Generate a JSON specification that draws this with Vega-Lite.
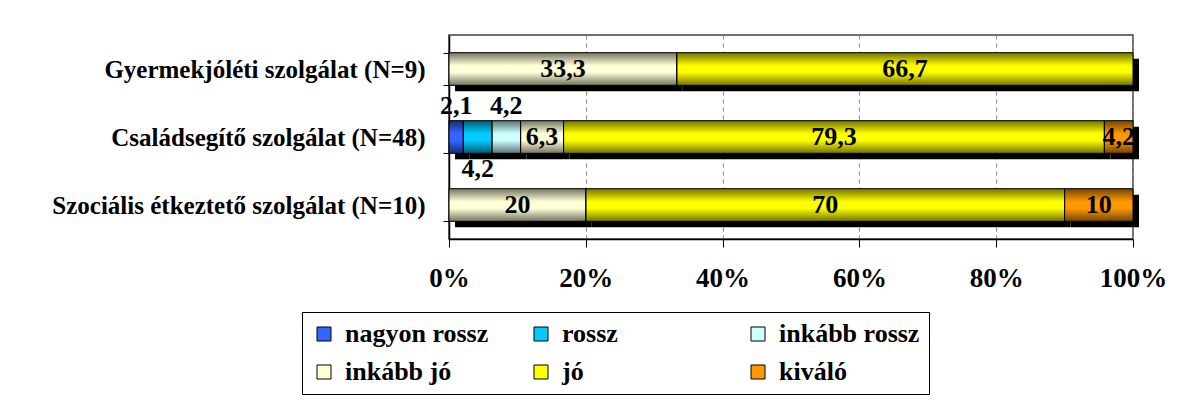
{
  "$schema": "https://vega.github.io/schema/vega-lite/v6.json",
  "width": 684,
  "height": 204,
  "autosize": {"type": "none"},
  "padding": {"left": 449, "top": 35, "right": 70, "bottom": 169},
  "background": "white",
  "data": {
    "values": [
      {"service": "Gyermekjóléti szolgálat (N=9)", "category": "inkább jó", "value": 33.3, "rank": 4},
      {"service": "Gyermekjóléti szolgálat (N=9)", "category": "jó", "value": 66.7, "rank": 5},
      {"service": "Családsegítő szolgálat (N=48)", "category": "nagyon rossz", "value": 2.1, "rank": 1},
      {"service": "Családsegítő szolgálat (N=48)", "category": "rossz", "value": 4.2, "rank": 2},
      {"service": "Családsegítő szolgálat (N=48)", "category": "inkább rossz", "value": 4.2, "rank": 3},
      {"service": "Családsegítő szolgálat (N=48)", "category": "inkább jó", "value": 6.3, "rank": 4},
      {"service": "Családsegítő szolgálat (N=48)", "category": "jó", "value": 79.3, "rank": 5},
      {"service": "Családsegítő szolgálat (N=48)", "category": "kiváló", "value": 4.2, "rank": 6},
      {"service": "Szociális étkeztető szolgálat (N=10)", "category": "inkább jó", "value": 20, "rank": 4},
      {"service": "Szociális étkeztető szolgálat (N=10)", "category": "jó", "value": 70, "rank": 5},
      {"service": "Szociális étkeztető szolgálat (N=10)", "category": "kiváló", "value": 10, "rank": 6}
    ]
  },
  "encoding": {
    "y": {
      "field": "service",
      "type": "nominal",
      "sort": ["Gyermekjóléti szolgálat (N=9)", "Családsegítő szolgálat (N=48)", "Szociális étkeztető szolgálat (N=10)"],
      "title": null,
      "scale": {"paddingInner": 0.52, "paddingOuter": 0.26}
    },
    "x": {
      "field": "value", "type": "quantitative", "stack": "normalize", "title": null,
      "scale": {"domain": [0, 1]},
      "axis": {"values": [0, 0.2, 0.4, 0.6, 0.8, 1], "format": ".0%"}
    },
    "order": {"field": "rank", "type": "quantitative"},
    "detail": {"field": "category"}
  },
  "layer": [
    {
      "mark": {"type": "bar", "color": "black", "xOffset": 6, "yOffset": 6}
    },
    {
      "mark": {"type": "bar", "strokeWidth": 0},
      "encoding": {
        "color": {
          "field": "category",
          "type": "nominal",
          "scale": {
            "domain": ["nagyon rossz", "rossz", "inkább rossz", "inkább jó", "jó", "kiváló"],
            "range": ["#3366FF", "#00CCFF", "#CCFFFF", "#FFFFD8", "#FFFF00", "#FF9900"]
          },
          "legend": {
            "orient": "none",
            "legendX": -147,
            "legendY": 277,
            "columns": 3,
            "direction": "horizontal",
            "title": null,
            "symbolType": "square",
            "symbolSize": 196,
            "symbolStrokeColor": "black",
            "symbolStrokeWidth": 1,
            "symbolOpacity": 1,
            "labelFont": "Liberation Serif",
            "labelFontSize": 26,
            "labelFontWeight": "bold",
            "labelColor": "black",
            "labelOffset": 8,
            "strokeColor": "black",
            "padding": 9,
            "columnPadding": 39,
            "rowPadding": 12,
            "gridAlign": "all"
          }
        }
      }
    },
    {
      "mark": {
        "type": "bar",
        "stroke": "black",
        "strokeWidth": 1,
        "fill": {
          "gradient": "linear",
          "x1": 0, "y1": 0, "x2": 0, "y2": 1,
          "stops": [
            {"offset": 0, "color": "rgba(0,0,0,0.55)"},
            {"offset": 0.4, "color": "rgba(0,0,0,0)"},
            {"offset": 0.6, "color": "rgba(0,0,0,0)"},
            {"offset": 1, "color": "rgba(0,0,0,0.55)"}
          ]
        }
      }
    },
    {
      "mark": {"type": "text", "font": "Liberation Serif", "fontSize": 26, "fontWeight": "bold", "color": "black", "baseline": "middle"},
      "encoding": {
        "x": {"field": "value", "type": "quantitative", "stack": "normalize", "bandPosition": 0.5, "title": null},
        "text": {
          "condition": {"test": "!(datum.service === 'Családsegítő szolgálat (N=48)' && datum.rank <= 3)", "field": "value", "type": "quantitative", "format": "~g"},
          "value": ""
        }
      }
    },
    {
      "mark": {"type": "text", "font": "Liberation Serif", "fontSize": 26, "fontWeight": "bold", "color": "black", "baseline": "middle", "dy": -31},
      "encoding": {
        "x": {"field": "value", "type": "quantitative", "stack": "normalize", "bandPosition": 0.5, "title": null},
        "text": {
          "condition": {"test": "datum.service === 'Családsegítő szolgálat (N=48)' && (datum.rank === 1 || datum.rank === 3)", "field": "value", "type": "quantitative", "format": "~g"},
          "value": ""
        }
      }
    },
    {
      "mark": {"type": "text", "font": "Liberation Serif", "fontSize": 26, "fontWeight": "bold", "color": "black", "baseline": "middle", "dy": 32},
      "encoding": {
        "x": {"field": "value", "type": "quantitative", "stack": "normalize", "bandPosition": 0.5, "title": null},
        "text": {
          "condition": {"test": "datum.service === 'Családsegítő szolgálat (N=48)' && datum.rank === 2", "field": "value", "type": "quantitative", "format": "~g"},
          "value": ""
        }
      }
    }
  ],
  "config": {
    "locale": {"number": {"decimal": ",", "thousands": " ", "grouping": [3], "currency": ["", ""]}},
    "view": {"stroke": "#404040", "strokeWidth": 1.5},
    "axisY": {
      "domainColor": "black", "domainWidth": 1.5, "tickColor": "black", "tickSize": 6, "tickBand": "extent",
      "labelFont": "Liberation Serif", "labelFontWeight": "bold", "labelFontSize": 25, "labelColor": "black",
      "labelPadding": 18, "labelLimit": 0, "grid": false
    },
    "axisX": {
      "domainColor": "black", "domainWidth": 1.5, "tickColor": "black", "tickSize": 8,
      "labelFont": "Liberation Serif", "labelFontWeight": "bold", "labelFontSize": 27, "labelColor": "black",
      "labelPadding": 18, "labelFlush": false, "grid": true, "gridColor": "#888888", "gridDash": [4, 4]
    }
  }
}
